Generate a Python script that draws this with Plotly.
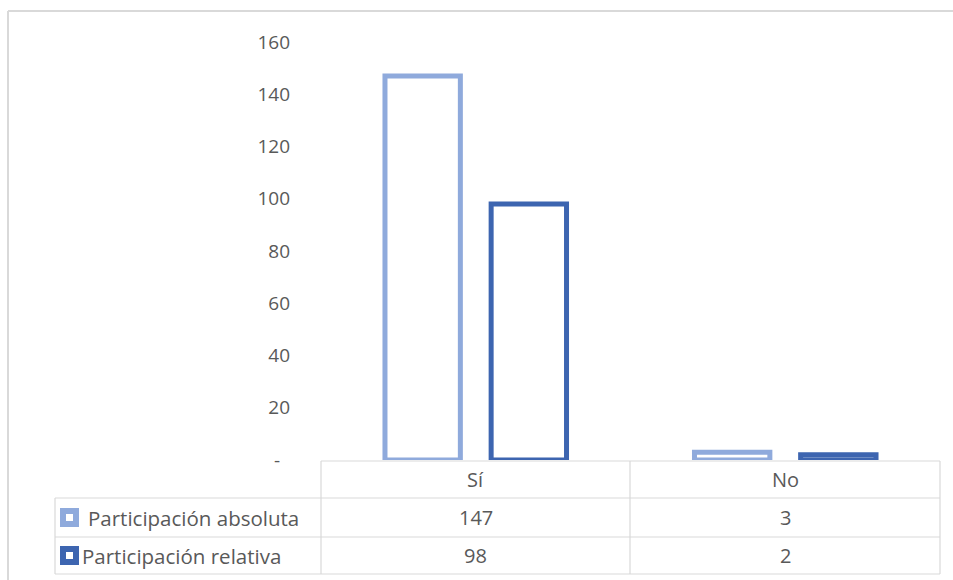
import plotly.graph_objects as go

# Data
categories = ["Sí", "No"]
series_names = ["Participación absoluta", "Participación relativa"]
absoluta = [147, 3]
relativa = [98, 2]
y_ticks = [0, 20, 40, 60, 80, 100, 120, 140, 160]
y_tick_text = ["-\u00a0\u00a0", "20", "40", "60", "80", "100", "120", "140", "160"]

W, H = 953, 580
colors = ["#8FAADC", "#3D65B0"]
grid = "#D9D9D9"
text_color = "#595959"
font_family = "'Open Sans', 'Noto Sans', sans-serif"


def px(x):
    return x / W


def py(y):
    return 1 - y / H


# Plot area geometry (pixels)
plot_left, plot_right = 321, 940
plot_top, plot_bottom = 42, 460

fig = go.Figure()
for name, vals, col in zip(series_names, [absoluta, relativa], colors):
    fig.add_trace(go.Bar(
        x=categories, y=vals, name=name,
        marker=dict(color="white", line=dict(color=col, width=5)),
        hovertemplate="%{x}: %{y}<extra>" + name + "</extra>",
    ))

shapes = []


def hline(y, x0, x1, width=1.2, color=grid):
    shapes.append(dict(type="line", xref="paper", yref="paper",
                       x0=px(x0), x1=px(x1), y0=py(y), y1=py(y),
                       line=dict(color=color, width=width)))


def vline(x, y0, y1, width=1.2, color=grid):
    shapes.append(dict(type="line", xref="paper", yref="paper",
                       x0=px(x), x1=px(x), y0=py(y0), y1=py(y1),
                       line=dict(color=color, width=width)))


# Chart frame
hline(11, 8, W + 5, width=2)
vline(8, 11, H + 5, width=2)

# Data table grid
row_y = [461, 498, 537, 574]
col_x = [321, 630, 940]
hline(row_y[0], col_x[0], col_x[-1])
for y in row_y[1:]:
    hline(y, 55, col_x[-1])
vline(55, row_y[1], row_y[-1])
for x in col_x:
    vline(x, row_y[0], row_y[-1])

annotations = []
cat_centers = [(col_x[i] + col_x[i + 1]) / 2 for i in range(len(categories))]
value_font = dict(family=font_family, size=20, color=text_color)
label_font = dict(family=font_family, size=20.5, color=text_color)

# Header row: categories
for c, cx in zip(categories, cat_centers):
    annotations.append(dict(x=px(cx), y=py((row_y[0] + row_y[1]) / 2),
                            xref="paper", yref="paper", text=c, showarrow=False,
                            xanchor="center", yanchor="middle", font=value_font))

# Series rows: legend key, name and values
label_x = [86, 80]
for r, (name, vals, col) in enumerate(zip(series_names, [absoluta, relativa], colors)):
    yc = (row_y[r + 1] + row_y[r + 2]) / 2
    shapes.append(dict(type="rect", xref="paper", yref="paper",
                       x0=px(63), x1=px(76), y0=py(yc - 6.5), y1=py(yc + 6.5),
                       fillcolor="white", line=dict(color=col, width=6)))
    annotations.append(dict(x=px(label_x[r]), y=py(yc), xref="paper", yref="paper",
                            text=name, showarrow=False, xanchor="left",
                            yanchor="middle", font=label_font))
    for v, cx in zip(vals, cat_centers):
        annotations.append(dict(x=px(cx), y=py(yc), xref="paper", yref="paper",
                                text=str(v), showarrow=False, xanchor="center",
                                yanchor="middle", font=value_font))

fig.update_layout(
    template="none",
    width=W, height=H,
    margin=dict(l=0, r=0, t=0, b=0, pad=0),
    paper_bgcolor="white", plot_bgcolor="white",
    barmode="group", bargap=0.314, bargroupgap=0.29,
    showlegend=False,
    shapes=shapes, annotations=annotations,
    font=dict(family=font_family, color=text_color),
    xaxis=dict(domain=[px(plot_left), px(plot_right)], range=[-0.5, 1.5],
               showticklabels=False, showgrid=False, zeroline=False,
               showline=False, ticks="", automargin=False),
    yaxis=dict(domain=[py(plot_bottom), py(plot_top)], range=[0, 160],
               tickvals=y_ticks, ticktext=y_tick_text,
               tickfont=dict(family=font_family, size=19, color=text_color),
               showgrid=False, zeroline=False, showline=False, ticks="",
               ticklabelstandoff=30, automargin=False),
)

fig.write_html("out.html")
